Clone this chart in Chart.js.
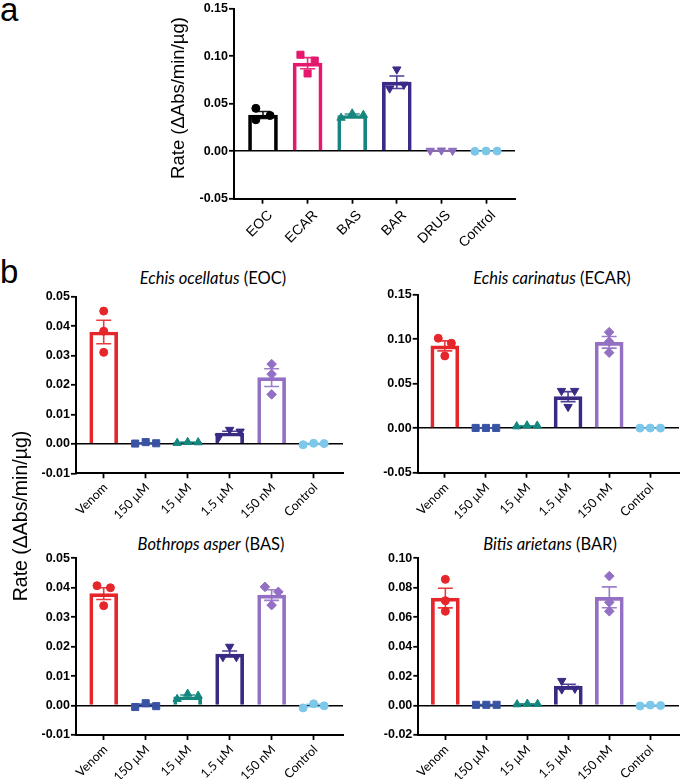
<!DOCTYPE html>
<html><head><meta charset="utf-8">
<script src="https://cdn.jsdelivr.net/npm/chart.js@4.4.1/dist/chart.umd.min.js"></script>
<style>
html,body{margin:0;padding:0;background:#fff;}
#wrap{position:relative;width:685px;height:779px;overflow:hidden;background:#fff;}
canvas{position:absolute;}
.lbl{position:absolute;color:#000;white-space:nowrap;}
.letter{font-family:'Liberation Sans',Arial,sans-serif;font-size:33px;line-height:33px;}
.title{font-family:Lato,'Liberation Sans',sans-serif;font-size:16.5px;line-height:17px;height:17px;text-align:center;width:300px;}
.cat{position:absolute;color:#000;white-space:nowrap;text-align:right;}
</style></head><body><div id="wrap">
<div class="lbl letter" style="left:0px;top:-7px">a</div>
<div class="lbl letter" style="left:0px;top:255px">b</div>
<div class="lbl title" style="left:63px;top:270px"><i>Echis ocellatus</i> (EOC)</div>
<div class="lbl title" style="left:402px;top:270px"><i>Echis carinatus</i> (ECAR)</div>
<div class="lbl title" style="left:61px;top:536px"><i>Bothrops asper</i> (BAS)</div>
<div class="lbl title" style="left:400px;top:536px"><i>Bitis arietans</i> (BAR)</div>
<canvas id="cA" width="375" height="260" style="left:150px;top:0px"></canvas>
<canvas id="cEOC" width="330" height="250" style="left:20px;top:285px"></canvas>
<canvas id="cECAR" width="325" height="250" style="left:360px;top:285px"></canvas>
<canvas id="cBAS" width="330" height="234" style="left:20px;top:545px"></canvas>
<canvas id="cBAR" width="325" height="234" style="left:360px;top:545px"></canvas>
<canvas id="yA" width="24" height="190" style="left:168px;top:2.5px"></canvas>
<canvas id="yB" width="26" height="210" style="left:10px;top:411px"></canvas>
</div>
<script>
// ---------- DATA ----------
const Y_title = 'Rate (ΔAbs/min/µg)';
// Panel a
const A_cats = ['EOC', 'ECAR', 'BAS', 'BAR', 'DRUS', 'Control'];
const A_means = [0.038, 0.0925, 0.0375, 0.0725, 0.0006, 0.0];
const A_sems = [0.0037, 0.0058, 0.0015, 0.0066, 0.0001, 0.0001];
const A_points = [
  [0.045, 0.0375, 0.033],
  [0.1014, 0.0952, 0.0817],
  [0.035, 0.0395, 0.038],
  [0.086, 0.066, 0.07],
  [0.0005, 0.0008, 0.0005],
  [-0.0002, 0.0001, 0.0001]
];
const A_yTicks = [-0.05, 0.0, 0.05, 0.10, 0.15];

// Panel b categories
const B_cats = ['Venom', '150 µM', '15 µM', '1.5 µM', '150 nM', 'Control'];

const EOC_means = [0.038, 0.0003, 0.0005, 0.0037, 0.0225, 0.0];
const EOC_sems = [0.004, 0.0001, 0.0001, 0.0006, 0.003, 0.0002];
const EOC_points = [
  [0.0451, 0.0383, 0.0311],
  [0.0001, 0.0006, 0.0002],
  [0.0003, 0.0006, 0.0005],
  [0.0025, 0.0048, 0.0042],
  [0.0271, 0.0237, 0.0168],
  [-0.0003, 0.0002, 0.0001]
];
const EOC_yTicks = [-0.01, 0.0, 0.01, 0.02, 0.03, 0.04, 0.05];

const ECAR_means = [0.0925, 0.0003, 0.0025, 0.0355, 0.0965, 0.0];
const ECAR_sems = [0.0056, 0.0001, 0.0003, 0.0056, 0.0065, 0.0002];
const ECAR_points = [
  [0.1011, 0.0955, 0.0812],
  [0.0003, 0.0003, 0.0003],
  [0.002, 0.003, 0.0028],
  [0.042, 0.042, 0.024],
  [0.1079, 0.0973, 0.0849],
  [0.0001, 0.0002, 0.0001]
];
const ECAR_yTicks = [-0.05, 0.0, 0.05, 0.10, 0.15];

const BAS_means = [0.038, 0.0001, 0.003, 0.0175, 0.0375, 0.0];
const BAS_sems = [0.002, 0.0004, 0.0006, 0.001, 0.0018, 0.0004];
const BAS_points = [
  [0.0407, 0.040, 0.0339],
  [-0.0005, 0.0008, -0.0002],
  [0.0022, 0.004, 0.0033],
  [0.0165, 0.020, 0.0165],
  [0.0403, 0.0386, 0.0341],
  [-0.0008, 0.0006, -0.0001]
];
const BAS_yTicks = [-0.01, 0.0, 0.01, 0.02, 0.03, 0.04, 0.05];

const BAR_means = [0.073, 0.0005, 0.001, 0.013, 0.0735, 0.0];
const BAR_sems = [0.0067, 0.0001, 0.0002, 0.0015, 0.0071, 0.0003];
const BAR_points = [
  [0.0857, 0.0712, 0.064],
  [0.0005, 0.0005, 0.0005],
  [0.0008, 0.0012, 0.001],
  [0.0168, 0.0115, 0.011],
  [0.0879, 0.0701, 0.064],
  [-0.0003, 0.0003, 0.0]
];
const BAR_yTicks = [-0.02, 0.0, 0.02, 0.04, 0.06, 0.08, 0.10];

// ---------- STYLES ----------
const A_colors = ['#000000', '#E5176E', '#17857F', '#3D2A87', '#8C6BBE', '#7CC6E8'];
const A_styles = ['circle', 'rect', 'triangle', 'triangleDown', 'triangleDown', 'circle'];
const B_colors = ['#E5262A', '#3953A4', '#14877F', '#3B2A84', '#9370C4', '#7DC7EA'];
const B_styles = ['circle', 'rect', 'triangle', 'triangleDown', 'rectRot', 'circle'];
const PAIR = 0.16, TRIPLE = 0.25;

function spread(vals, thr) {
  const n = vals.length;
  const idx = vals.map((v, i) => i).sort((a, b) => vals[b] - vals[a]);
  const offs = new Array(n).fill(0);
  const clusters = [];
  let cur = [idx[0]];
  for (let k = 1; k < n; k++) {
    if (Math.abs(vals[idx[k - 1]] - vals[idx[k]]) < thr) cur.push(idx[k]);
    else { clusters.push(cur); cur = [idx[k]]; }
  }
  clusters.push(cur);
  clusters.forEach(c => {
    if (c.length === 2) {
      const s = [...c].sort((p, q) => p - q);
      offs[s[0]] = -PAIR; offs[s[1]] = PAIR;
    } else if (c.length >= 3) {
      if (Math.abs(vals[c[0]] - vals[c[c.length - 1]]) < thr) {
        const s = [...c].sort((p, q) => p - q);
        s.forEach((ii, k) => { offs[ii] = (k - (s.length - 1) / 2) * TRIPLE; });
      } else {
        c.forEach((ii, k) => { offs[ii] = (k % 2 === 0) ? -PAIR : PAIR; });
      }
    }
  });
  return offs;
}

function errorBarPlugin(means, sems, colors, cap, width) {
  return {
    id: 'errorBars',
    afterDatasetsDraw(chart) {
      const ctx = chart.ctx, x = chart.scales.x, y = chart.scales.y;
      means.forEach((m, i) => {
        const s = sems[i];
        const px = x.getPixelForValue(i);
        const pt = y.getPixelForValue(m + s), pb = y.getPixelForValue(m - s);
        ctx.save();
        ctx.strokeStyle = colors[i];
        ctx.globalAlpha = 0.9;
        ctx.lineWidth = width;
        ctx.beginPath();
        ctx.moveTo(px, pt); ctx.lineTo(px, pb);
        ctx.moveTo(px - cap, pt); ctx.lineTo(px + cap, pt);
        ctx.moveTo(px - cap, pb); ctx.lineTo(px + cap, pb);
        ctx.stroke();
        ctx.restore();
      });
    }
  };
}

// category labels as text elements, rotated 45 degrees, at the x scale's tick positions
function placeCatLabels(chart, box, cats, fam, size, baseFrac, dx, dy) {
  const wrap = document.getElementById('wrap');
  const x = chart.scales.x, yb = chart.chartArea.bottom;
  const W = 140, B = size * baseFrac;
  cats.forEach((c, i) => {
    const ax = box.x + x.getPixelForValue(i) + dx;
    const ay = box.y + yb + dy;
    const d = document.createElement('div');
    d.className = 'cat';
    d.textContent = c;
    d.style.fontFamily = fam;
    d.style.fontSize = size + 'px';
    d.style.lineHeight = size + 'px';
    d.style.height = size + 'px';
    d.style.width = W + 'px';
    d.style.left = (ax - W) + 'px';
    d.style.top = (ay - B) + 'px';
    d.style.transformOrigin = W + 'px ' + B + 'px';
    d.style.transform = 'rotate(-45deg)';
    wrap.appendChild(d);
  });
}

function makePanel(cfg) {
  const canvas = document.getElementById(cfg.id);
  const box = { x: parseFloat(canvas.style.left), y: parseFloat(canvas.style.top), w: canvas.width, h: canvas.height };
  const area = cfg.area;
  const yT = cfg.yTicks;
  const yMin = yT[0], yMax = yT[yT.length - 1];
  const thr = (yMax - yMin) * 0.045;
  const datasets = [{
    type: 'bar',
    order: 2,
    data: cfg.means.map((v, i) => ({ x: i, y: v })),
    backgroundColor: 'rgba(255,255,255,0)',
    borderColor: cfg.colors,
    borderWidth: 3,
    borderSkipped: 'start',
    barThickness: cfg.barW
  }];
  cfg.points.forEach((vals, i) => {
    const offs = spread(vals, thr);
    const st = cfg.styles[i];
    datasets.push({
      type: 'scatter',
      order: 1,
      data: vals.map((v, k) => ({ x: i + offs[k], y: v })),
      pointStyle: st === 'triangleDown' ? 'triangle' : st,
      pointRotation: st === 'triangleDown' ? 180 : 0,
      pointRadius: st === 'rect' ? 5 : (st === 'circle' ? 4 : 4.8),
      pointBackgroundColor: cfg.colors[i],
      pointBorderColor: cfg.colors[i],
      backgroundColor: cfg.colors[i],
      borderColor: cfg.colors[i],
      pointBorderWidth: 1,
      showLine: false
    });
  });
  const chart = new Chart(canvas, {
    type: 'bar',
    data: { datasets },
    plugins: [errorBarPlugin(cfg.means, cfg.sems, cfg.colors, 7.5, 1.6)],
    options: {
      responsive: false,
      animation: false,
      devicePixelRatio: 1,
      layout: { padding: { left: 0, top: area.t - box.y, right: box.x + box.w - area.r, bottom: 0 } },
      plugins: { legend: { display: false }, tooltip: { enabled: false }, title: { display: false } },
      scales: {
        x: {
          type: 'linear',
          min: cfg.xMin, max: cfg.xMax,
          offset: false,
          grid: { offset: false, drawOnChartArea: false, drawTicks: true, tickLength: 5, tickColor: '#000', tickWidth: 1.8 },
          border: { display: true, color: '#000', width: 2 },
          afterBuildTicks: s => { s.ticks = cfg.cats.map((c, i) => ({ value: i })); },
          ticks: { display: false },
          afterFit: s => { s.height = box.y + box.h - area.b; }
        },
        y: {
          type: 'linear',
          min: yMin, max: yMax,
          grid: {
            drawOnChartArea: true, drawTicks: true, tickLength: 5, tickColor: '#000', tickWidth: 1.8,
            color: c => (c.tick && Math.abs(c.tick.value) < 1e-9) ? '#000' : 'rgba(0,0,0,0)',
            lineWidth: 1.6
          },
          border: { display: true, color: '#000', width: 2 },
          afterBuildTicks: s => { s.ticks = yT.map(v => ({ value: v })); },
          ticks: {
            callback: v => v.toFixed(2),
            font: { family: "'Liberation Sans', Arial, sans-serif", weight: 'bold', size: 12.5 },
            color: '#000', padding: 1
          },
          afterFit: s => { s.width = area.l - box.x; }
        }
      }
    }
  });
  placeCatLabels(chart, box, cfg.cats, cfg.catFam, cfg.catSize, cfg.catBase, cfg.catDx, cfg.catDy);
}

// y-axis title drawn by a Chart.js axis (no data) so it is rotated by the library
function makeAxisTitle(id, text, size) {
  const canvas = document.getElementById(id);
  new Chart(canvas, {
    type: 'scatter',
    data: { datasets: [] },
    options: {
      responsive: false, animation: false, devicePixelRatio: 1,
      layout: { padding: 0 },
      plugins: { legend: { display: false }, tooltip: { enabled: false } },
      scales: {
        x: { display: false },
        y: {
          display: true,
          ticks: { display: false },
          grid: { display: false, drawTicks: false },
          border: { display: false },
          title: { display: true, text, color: '#000', padding: 0,
            font: { family: "'Liberation Sans', Arial, sans-serif", size, weight: 'normal' } },
          afterFit: s => { s.width = canvas.width; }
        }
      }
    }
  });
}

const famA = "'Liberation Sans', Arial, sans-serif";
const famB = "Lato, 'Liberation Sans', sans-serif";

makePanel({ id: 'cA', area: { l: 234, t: 7, r: 515, b: 198.7 }, cats: A_cats, means: A_means, sems: A_sems, points: A_points,
  colors: A_colors, styles: A_styles, yTicks: A_yTicks, xMin: -0.65, xMax: 5.65, barW: 29,
  catFam: famA, catSize: 14, catBase: 0.847, catDx: 10, catDy: 17 });
makePanel({ id: 'cEOC', area: { l: 76, t: 296.7, r: 343, b: 473.3 }, cats: B_cats, means: EOC_means, sems: EOC_sems, points: EOC_points,
  colors: B_colors, styles: B_styles, yTicks: EOC_yTicks, xMin: -0.66, xMax: 5.7, barW: 28,
  catFam: famB, catSize: 12.5, catBase: 0.887, catDx: 5, catDy: 16 });
makePanel({ id: 'cECAR', area: { l: 417.7, t: 294.7, r: 683, b: 472.7 }, cats: B_cats, means: ECAR_means, sems: ECAR_sems, points: ECAR_points,
  colors: B_colors, styles: B_styles, yTicks: ECAR_yTicks, xMin: -0.66, xMax: 5.7, barW: 28,
  catFam: famB, catSize: 12.5, catBase: 0.887, catDx: 5, catDy: 16 });
makePanel({ id: 'cBAS', area: { l: 76, t: 558.3, r: 343, b: 735 }, cats: B_cats, means: BAS_means, sems: BAS_sems, points: BAS_points,
  colors: B_colors, styles: B_styles, yTicks: BAS_yTicks, xMin: -0.66, xMax: 5.7, barW: 28,
  catFam: famB, catSize: 12.5, catBase: 0.887, catDx: 5, catDy: 16 });
makePanel({ id: 'cBAR', area: { l: 418.3, t: 558.3, r: 683, b: 735 }, cats: B_cats, means: BAR_means, sems: BAR_sems, points: BAR_points,
  colors: B_colors, styles: B_styles, yTicks: BAR_yTicks, xMin: -0.66, xMax: 5.7, barW: 28,
  catFam: famB, catSize: 12.5, catBase: 0.887, catDx: 5, catDy: 16 });
makeAxisTitle('yA', Y_title, 18.5);
makeAxisTitle('yB', Y_title, 19.5);
</script>
</body></html>
